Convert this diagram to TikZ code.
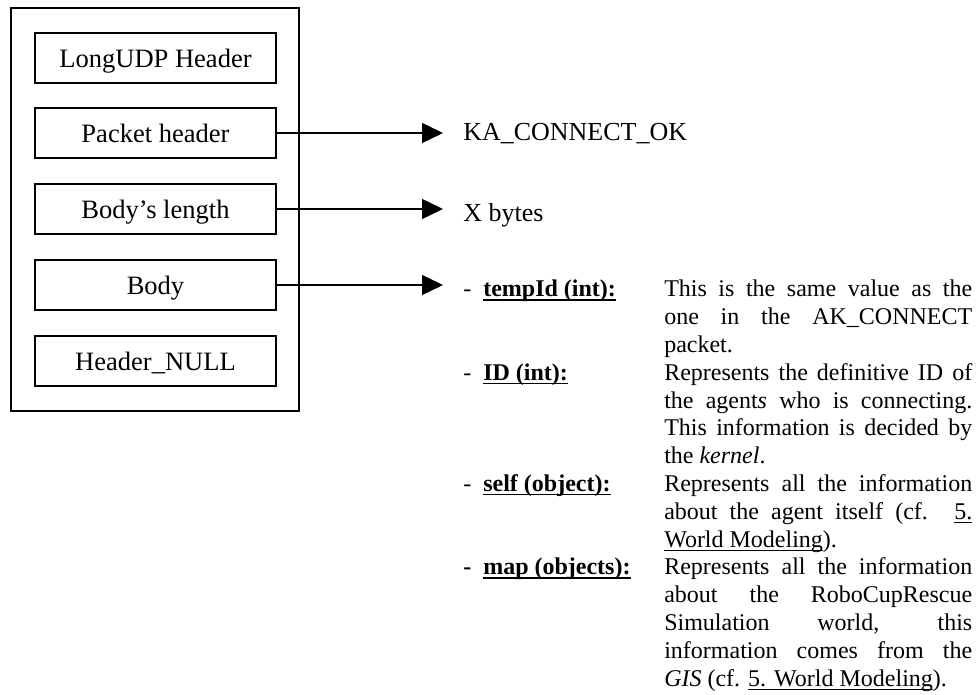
\documentclass[tikz,border=0pt]{standalone}
\usepackage{fontspec}
\setmainfont{Liberation Serif}
\usetikzlibrary{arrows.meta}
\newcommand\myul[1]{\setbox0\hbox{#1}\rlap{\rule[-2.6pt]{\wd0}{0.8pt}}\box0}
\newcommand\mybul[1]{\setbox0\hbox{#1}\rlap{\rule[-2.9pt]{\wd0}{1.1pt}}\box0}
\newcommand\jline[1]{\makebox[231pt][s]{#1}}
\begin{document}
\begin{tikzpicture}[x=0.75pt,y=-0.75pt,
  field/.style={draw, line width=1.1pt, minimum width=180.75pt, minimum height=37.5pt,
    inner sep=0pt, text height=15pt, text depth=0pt, font=\fontsize{19.9}{23}\selectfont},
  frame/.style={draw, line width=1.1pt, minimum width=216pt, minimum height=302.25pt, inner sep=0pt},
  arr/.style={line width=1.1pt, -{Triangle[length=15.75pt,width=15pt]}},
  big/.style={anchor=base west, inner sep=0pt, font=\fontsize{19.5}{23}\selectfont},
  txt/.style={anchor=base west, inner sep=0pt, font=\fontsize{18}{20.85}\selectfont},
  lbl/.style={anchor=base west, inner sep=0pt, font=\fontsize{18}{20.85}\selectfont\bfseries}]
\useasboundingbox (0,0) rectangle (976,695);

\node[frame] (outer) at (155,209.5) {};
\node[field] (b1) at (155.5,58) {LongUDP Header};
\node[field] (b2) at (155.5,133) {Packet header};
\node[field] (b3) at (155.5,209) {Body’s length};
\node[field] (b4) at (155.5,285) {Body};
\node[field] (b5) at (155.5,361) {Header\_NULL};

\coordinate (t2) at (443,133);
\coordinate (t3) at (443,209);
\coordinate (t4) at (443,285);
\draw[arr] (b2.east) -- (t2);
\draw[arr] (b3.east) -- (t3);
\draw[arr] (b4.east) -- (t4);

\node[big] (ka) at (463,141) {KA\_CONNECT\_OK};
\node[big] (xb) at (463,222) {X bytes};

% list labels
\node[txt] (d1) at (463,297) {-};
\node[lbl] (l1) at (483,297) {\mybul{tempId (int):}};
\node[txt] (d2) at (463,380.4) {-};
\node[lbl] (l2) at (483,380.4) {\mybul{ID (int):}};
\node[txt] (d3) at (463,491.6) {-};
\node[lbl] (l3) at (483,491.6) {\mybul{self (object):}};
\node[lbl] (d4) at (463,575) {-};
\node[lbl] (l4) at (483,575) {\mybul{map (objects):}};

% descriptions
\node[txt] (r0) at (664,297) {\jline{This is the same value as the}};
\node[txt] (r1) at (664,324.8) {\jline{one in the AK\_CONNECT}};
\node[txt] (r2) at (664,352.6) {packet.};
\node[txt] (r3) at (664,380.4) {\jline{Represents the definitive ID of}};
\node[txt] (r4) at (664,408.2) {\jline{the agent\textit{s} who is connecting.}};
\node[txt] (r5) at (664,436) {\jline{This information is decided by}};
\node[txt] (r6) at (664,463.8) {the \textit{kernel}.};
\node[txt] (r7) at (664,491.6) {\jline{Represents all the information}};
\node[txt] (r8) at (664,519.4) {\jline{about the agent itself (cf. \myul{5.}}};
\node[txt] (r9) at (664,547.2) {\myul{World Modeling}).};
\node[txt] (r10) at (664,575) {\jline{Represents all the information}};
\node[txt] (r11) at (664,602.8) {\jline{about the RoboCupRescue}};
\node[txt] (r12) at (664,630.6) {\jline{Simulation world, this}};
\node[txt] (r13) at (664,658.4) {\jline{information comes from the}};
\node[txt] (r14) at (664,686.2) {\textit{GIS} (cf. \myul{5. World Modeling}).};
\end{tikzpicture}
\end{document}
